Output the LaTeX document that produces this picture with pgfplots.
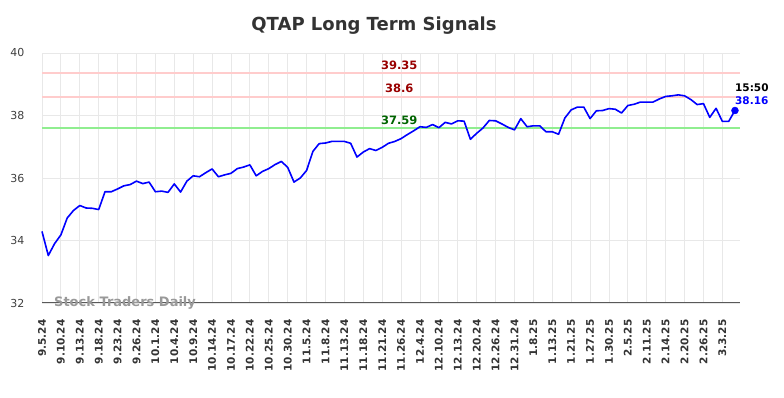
\documentclass[border=0pt]{standalone}
\usepackage{fontspec}
\setmainfont{DejaVu Sans}
\usepackage{pgfplots}
\usepackage{pgfplotstable}
\pgfplotsset{compat=1.18}
\definecolor{gridc}{HTML}{E8E8E8}
\definecolor{resline}{HTML}{FFCCCC}
\definecolor{supline}{HTML}{90EE90}
\definecolor{reslab}{HTML}{990000}
\definecolor{suplab}{HTML}{006400}
\definecolor{priceblue}{HTML}{0000FF}
\pgfplotstableread{
i v
0 34.29
1 33.52
2 33.90
3 34.18
4 34.72
5 34.96
6 35.12
7 35.04
8 35.03
9 34.99
10 35.56
11 35.56
12 35.65
13 35.75
14 35.79
15 35.90
16 35.82
17 35.87
18 35.56
19 35.58
20 35.54
21 35.81
22 35.55
23 35.90
24 36.07
25 36.04
26 36.17
27 36.29
28 36.04
29 36.10
30 36.15
31 36.30
32 36.35
33 36.42
34 36.07
35 36.21
36 36.30
37 36.43
38 36.53
39 36.34
40 35.87
41 36.00
42 36.24
43 36.85
44 37.10
45 37.12
46 37.17
47 37.17
48 37.17
49 37.11
50 36.67
51 36.83
52 36.94
53 36.88
54 36.98
55 37.11
56 37.17
57 37.26
58 37.39
59 37.51
60 37.64
61 37.62
62 37.71
63 37.61
64 37.78
65 37.73
66 37.83
67 37.82
68 37.24
69 37.43
70 37.60
71 37.84
72 37.83
73 37.73
74 37.62
75 37.54
76 37.90
77 37.64
78 37.67
79 37.67
80 37.48
81 37.48
82 37.40
83 37.92
84 38.18
85 38.27
86 38.27
87 37.90
88 38.15
89 38.16
90 38.22
91 38.20
92 38.08
93 38.32
94 38.36
95 38.43
96 38.43
97 38.43
98 38.53
99 38.61
100 38.63
101 38.66
102 38.63
103 38.51
104 38.35
105 38.38
106 37.94
107 38.23
108 37.81
109 37.81
110 38.16
}\pricedata
\begin{document}
\begin{tikzpicture}
\useasboundingbox (0,0) rectangle (784pt,398pt);
\node[font=\bfseries\fontsize{18}{21}\selectfont, text=black!80] at (374pt,372pt) {QTAP Long Term Signals};
\begin{axis}[
  at={(42pt,95pt)}, anchor=south west,
  scale only axis, width=698pt, height=250pt,
  xmin=0, xmax=110.8, ymin=32, ymax=40,
  axis line style={draw=none},
  xtick={0,3,...,108},
  xticklabels={9.5.24,9.10.24,9.13.24,9.18.24,9.23.24,9.26.24,10.1.24,10.4.24,10.9.24,10.14.24,10.17.24,10.22.24,10.25.24,10.30.24,11.5.24,11.8.24,11.13.24,11.18.24,11.21.24,11.26.24,12.4.24,12.10.24,12.13.24,12.20.24,12.26.24,12.31.24,1.8.25,1.13.25,1.21.25,1.27.25,1.30.25,2.5.25,2.11.25,2.14.25,2.20.25,2.26.25,3.3.25},
  ytick={32,34,...,40},
  major tick length=0pt,
  grid=major,
  major grid style={draw=gridc, line width=0.9pt},
  /pgf/number format/assume math mode=true,
  xticklabel style={rotate=90, anchor=east, font=\bfseries\fontsize{10.5}{12}\selectfont, text=black!80},
  yticklabel style={font=\fontsize{11}{13}\selectfont, text=black!75},
  xticklabel shift=13pt,
  yticklabel shift=14pt,
  clip=false,
]
\draw[black!65, line width=1pt] (rel axis cs:0,0) -- (rel axis cs:1,0);
\addplot[draw=resline, line width=1.8pt] coordinates {(0,39.35) (110.8,39.35)};
\addplot[draw=resline, line width=1.8pt] coordinates {(0,38.6) (110.8,38.6)};
\addplot[draw=supline, line width=1.8pt] coordinates {(0,37.59) (110.8,37.59)};
\addplot[draw=priceblue, line width=1.6pt, line join=round] table[x=i, y=v] {\pricedata};
\addplot[only marks, mark=*, mark size=3.5pt, priceblue] coordinates {(110,38.16)};
\node[anchor=base, yshift=4pt, text=reslab, font=\bfseries\fontsize{11.5}{13}\selectfont] at (axis cs:56.7,39.35) {39.35};
\node[anchor=base, yshift=4pt, text=reslab, font=\bfseries\fontsize{11.5}{13}\selectfont] at (axis cs:56.7,38.6) {38.6};
\node[anchor=base, yshift=4pt, text=suplab, font=\bfseries\fontsize{11.5}{13}\selectfont] at (axis cs:56.7,37.59) {37.59};
\node[anchor=west, inner sep=0pt, yshift=23pt, font=\bfseries\fontsize{10.5}{12}\selectfont, text=black] at (axis cs:110,38.16) {15:50};
\node[anchor=west, inner sep=0pt, yshift=10pt, font=\bfseries\fontsize{10.5}{12}\selectfont, text=priceblue] at (axis cs:110,38.16) {38.16};
\node[anchor=west, inner sep=0pt, font=\bfseries\fontsize{13}{15}\selectfont, text=black!40] at (axis cs:1.9,32) {Stock Traders Daily};
\end{axis}
\end{tikzpicture}
\end{document}
